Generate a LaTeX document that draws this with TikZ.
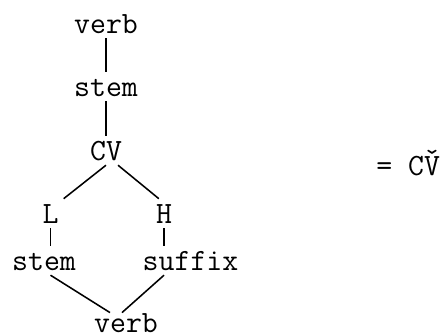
\documentclass[tikz,border=0pt]{standalone}
\usepackage{tikz}
\usetikzlibrary{positioning}

\begin{document}
\begin{tikzpicture}[
  x=0.025cm, y=-0.025cm,
  every node/.style={font=\fontsize{22}{26}\selectfont\ttfamily},
  word/.style={anchor=base, inner sep=3.5pt, text height=13.6pt, text depth=0pt},
  link/.style={line width=1.1pt}
]
  \useasboundingbox (0,0) rectangle (445,335);

  \node[word]  (verbtop)    at (106, 33)   {verb};
  \node[word]  (stemtop)    at (106, 96)   {stem};
  \node[word]  (cv)         at (106, 160)  {CV};

  \node[word]  (low)        at (50.5, 223) {L};
  \node[word]  (high)       at (164, 223)  {H};

  \node[word]  (stem)       at (44, 270)   {stem};
  \node[word]  (suffix)     at (190.5, 270) {suffix};

  \node[word, inner sep=0pt] (verbbottom) at (126, 332) {verb};

  \node[word, anchor=base west, inner sep=0pt] (result) at (376, 175) {= C\accent"02C7 V};

  \draw[link] (verbtop.south) -- (stemtop.north);
  \draw[link] (stemtop.south) -- (cv.north);

  \draw[link] (cv.south) -- (low.north east);
  \draw[link] ([xshift=3mm]cv.south) -- ([xshift=2mm]high.north west);

  \draw[link] (low.south) -- (low.south |- stem.north);
  \draw[link] (high.south) -- (high.south |- suffix.north);

  \draw[link] (low.south |- stem.south) -- ([xshift=-4mm]verbbottom.north);
  \draw[link] (high.south |- suffix.south) -- ([xshift=-1mm]verbbottom.north);
\end{tikzpicture}
\end{document}
